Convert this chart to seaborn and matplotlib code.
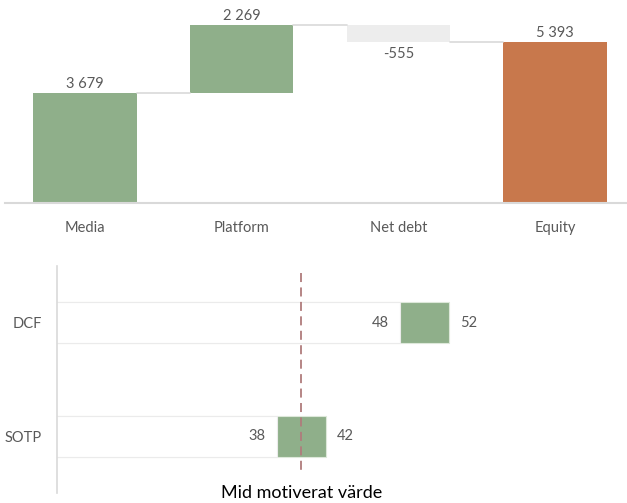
import matplotlib
matplotlib.use("Agg")
import matplotlib.pyplot as plt
import seaborn as sns
import numpy as np

# ---- data ----
categories = ["Media", "Platform", "Net debt", "Equity"]
changes = [3679, 2269, -555, 5393]
value_labels = ["3 679", "2 269", "-555", "5 393"]

methods = ["DCF", "SOTP"]
low_vals = [48, 38]
high_vals = [52, 42]
mid_value = 40
mid_label = "Mid motiverat värde"

# ---- style ----
sns.set_style("white")
plt.rcParams["font.family"] = ["Lato", "DejaVu Sans"]
TXT = "#595959"
GREEN = "#8FAF8A"
ORANGE = "#C8784C"
GREY = "#EDEDED"
LINE = "#D9D9D9"

fig = plt.figure(figsize=(6.27, 5.03), dpi=100)

# ---- waterfall ----
tops = [changes[0], changes[0] + changes[1], changes[0] + changes[1], changes[3]]
bases = [0, changes[0], changes[0] + changes[1] + changes[2], 0]
colors = [GREEN, GREEN, GREY, ORANGE]

ax1 = fig.add_axes([5 / 627, 1 - 203 / 503, 622 / 627, 203 / 503])
sns.barplot(x=categories, y=tops, hue=categories, palette=colors, legend=False,
            width=0.66, ax=ax1, saturation=1, linewidth=0)
sns.barplot(x=categories, y=bases, color="white", width=0.66, ax=ax1,
            saturation=1, linewidth=0)
ax1.set_xlim(-0.51, 3.46)
ax1.set_ylim(0, 6783)
hw = 0.33
# connectors
conn = [(0, 1, tops[0]), (1, 2, tops[1]), (2, 3, bases[2])]
for a, b, lvl in conn:
    ax1.plot([a + hw, b - hw], [lvl, lvl], color=LINE, lw=1.2, zorder=1)
# labels
for i, lab in enumerate(value_labels):
    if changes[i] < 0 and i != 3:
        ax1.annotate(lab, (i, bases[i]), xytext=(0, -4), textcoords="offset points",
                     ha="center", va="top", fontsize=10.5, color=TXT)
    else:
        ax1.annotate(lab, (i, tops[i]), xytext=(0, 1.5), textcoords="offset points",
                     ha="center", va="bottom", fontsize=10.5, color=TXT)
for s in ["top", "right", "left"]:
    ax1.spines[s].set_visible(False)
ax1.spines["bottom"].set_color(LINE)
ax1.spines["bottom"].set_linewidth(1.5)
ax1.set_yticks([])
ax1.tick_params(axis="x", length=0, pad=13, labelsize=10.5, labelcolor=TXT)
ax1.set_xlabel("")
ax1.set_ylabel("")

# ---- range chart ----
ax2 = fig.add_axes([57 / 627, 1 - 493 / 503, 570 / 627, 227 / 503])
sns.barplot(x=high_vals, y=methods, orient="h", color=GREEN, width=0.36,
            ax=ax2, saturation=1, linewidth=0.8, edgecolor="#DDE8DA")
sns.barplot(x=low_vals, y=methods, orient="h", color="white", width=0.36,
            ax=ax2, saturation=1, linewidth=0.8, edgecolor="#EBEBEB")
ax2.set_xlim(20.15, 66.45)
ax2.set_ylim(1.5, -0.5)
ax2.plot([mid_value, mid_value], [-0.44, 1.32], color="#B07C7C", lw=1.3,
         ls=(0, (5, 3)), zorder=5)
for i in range(len(methods)):
    ax2.annotate(str(low_vals[i]), (low_vals[i], i), xytext=(-8, 0),
                 textcoords="offset points", ha="right", va="center",
                 fontsize=10.5, color=TXT)
    ax2.annotate(str(high_vals[i]), (high_vals[i], i), xytext=(8, 0),
                 textcoords="offset points", ha="left", va="center",
                 fontsize=10.5, color=TXT)
for s in ["top", "right", "bottom"]:
    ax2.spines[s].set_visible(False)
ax2.spines["left"].set_color(LINE)
ax2.spines["left"].set_linewidth(1.2)
ax2.set_xticks([])
ax2.tick_params(axis="y", length=0, pad=11, labelsize=10.5, labelcolor=TXT)
ax2.set_xlabel("")
ax2.set_ylabel("")
ax2.text(mid_value, 1.5, mid_label, ha="center", va="center", fontsize=13,
         color="black", clip_on=False)

fig.savefig("out.png", dpi=100)
